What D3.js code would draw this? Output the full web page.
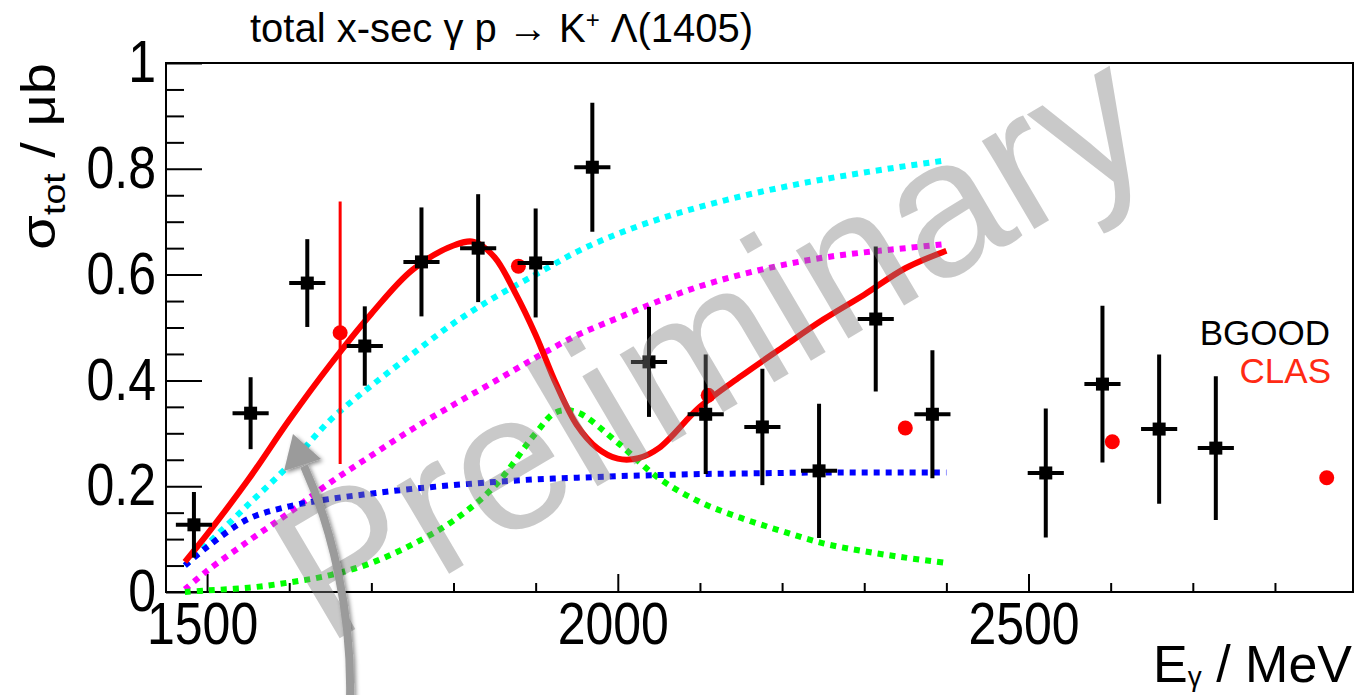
<!DOCTYPE html>
<html>
<head>
<meta charset="utf-8">
<script src="https://cdn.jsdelivr.net/npm/d3@7"></script>
<style>
  html, body { margin: 0; padding: 0; background: #ffffff; }
  svg { display: block; }
  text { font-family: "Liberation Sans", Arial, Helvetica, sans-serif; }
</style>
</head>
<body>
<svg id="chart" width="1360" height="695"></svg>
<script>
// ---- BGOOD measurement: photon energy (MeV), cross section (µb), stat. error ----
const bgoodEnergy = [1484, 1553, 1622, 1692, 1761, 1830, 1900, 1969, 2038, 2107, 2176, 2245, 2314, 2383, 2521, 2590, 2659, 2728];
const bgoodSigma  = [0.127, 0.338, 0.584, 0.465, 0.624, 0.650, 0.622, 0.803, 0.435, 0.336, 0.312, 0.229, 0.516, 0.336, 0.225, 0.393, 0.308, 0.272];
const bgoodError  = [0.062, 0.068, 0.083, 0.075, 0.103, 0.102, 0.103, 0.122, 0.104, 0.113, 0.110, 0.127, 0.137, 0.121, 0.122, 0.148, 0.141, 0.136];
const bgoodBinHalfWidth = 22;

// ---- CLAS measurement ----
const clasEnergy = [1662, 1879, 2110, 2350, 2602, 2863];
const clasSigma  = [0.490, 0.616, 0.372, 0.310, 0.284, 0.216];
const clasError  = [0.248, 0.010, 0.010, 0.010, 0.010, 0.010];

// ---- Model curves ----
const totalEnergy = [1473, 1500, 1550, 1600, 1650, 1700, 1750, 1800, 1825, 1850, 1875, 1900, 1925, 1950, 1975, 2000, 2025, 2050, 2100, 2150, 2200, 2250, 2300, 2350, 2400];
const totalSigma  = [0.057, 0.109, 0.212, 0.325, 0.430, 0.526, 0.609, 0.655, 0.662, 0.633, 0.566, 0.486, 0.393, 0.316, 0.272, 0.252, 0.253, 0.272, 0.350, 0.408, 0.462, 0.515, 0.562, 0.612, 0.645];

const partEnergy  = [1473, 1500, 1550, 1600, 1650, 1700, 1750, 1800, 1850, 1900, 1950, 2000, 2050, 2100, 2150, 2200, 2250, 2300, 2350, 2400];
const cyanSigma    = [0.050, 0.090, 0.165, 0.240, 0.325, 0.390, 0.450, 0.508, 0.557, 0.600, 0.643, 0.677, 0.705, 0.728, 0.748, 0.765, 0.780, 0.793, 0.805, 0.816];
const magentaSigma = [0.005, 0.040, 0.096, 0.150, 0.207, 0.258, 0.308, 0.354, 0.398, 0.443, 0.485, 0.518, 0.550, 0.578, 0.600, 0.618, 0.632, 0.642, 0.650, 0.658];
const blueSigma    = [0.050, 0.085, 0.138, 0.162, 0.176, 0.186, 0.195, 0.202, 0.208, 0.213, 0.216, 0.219, 0.221, 0.223, 0.224, 0.225, 0.226, 0.226, 0.226, 0.226];

const greenEnergy = [1473, 1500, 1550, 1600, 1650, 1700, 1750, 1800, 1850, 1900, 1925, 1950, 2000, 2050, 2100, 2150, 2200, 2250, 2300, 2350, 2400];
const greenSigma  = [0.000, 0.003, 0.008, 0.018, 0.032, 0.055, 0.090, 0.135, 0.200, 0.300, 0.340, 0.340, 0.282, 0.215, 0.170, 0.140, 0.115, 0.092, 0.077, 0.065, 0.055];

// ---- Axis ticks ----
const xMajorTicks = [1500, 2000, 2500];
const xMinorTicks = [1600, 1700, 1800, 1900, 2100, 2200, 2300, 2400, 2600, 2700, 2800];
const yMajorTicks = [0, 0.2, 0.4, 0.6, 0.8, 1];
const yTickLabels = ["0", "0.2", "0.4", "0.6", "0.8", "1"];
const yMinorTicks = [0.05, 0.1, 0.15, 0.25, 0.3, 0.35, 0.45, 0.5, 0.55, 0.65, 0.7, 0.75, 0.85, 0.9, 0.95];

const svg = d3.select("#chart");
const frame = { left: 166, right: 1353, top: 63, bottom: 592 };
const labelStretch = 1.17;   // axis lettering is drawn a little taller than wide

const x = d3.scaleLinear().domain([1450, 2895]).range([frame.left, frame.right]);
const y = d3.scaleLinear().domain([0, 1]).range([frame.bottom, frame.top]);

// title
const title = svg.append("text")
  .attr("x", 250).attr("y", 42)
  .attr("font-size", 40).attr("fill", "#000");
title.append("tspan").text("total x-sec γ p → K");
title.append("tspan").attr("font-size", 24).attr("dy", -14).text("+");
title.append("tspan").attr("dy", 14).text(" Λ(1405)");

// frame
svg.append("rect")
  .attr("x", frame.left).attr("y", frame.top)
  .attr("width", frame.right - frame.left).attr("height", frame.bottom - frame.top)
  .attr("fill", "none").attr("stroke", "#000").attr("stroke-width", 2);

// axes (ticks pointing inward)
function styleAxis(g) {
  g.select(".domain").remove();
  g.selectAll(".tick line").attr("stroke", "#000").attr("stroke-width", 2);
}
svg.append("g").attr("transform", `translate(0,${frame.bottom})`)
  .call(d3.axisBottom(x).tickValues(xMinorTicks).tickSize(-9).tickFormat(""))
  .call(styleAxis);
const xAxisG = svg.append("g").attr("transform", `translate(0,${frame.bottom})`)
  .call(d3.axisBottom(x).tickValues(xMajorTicks).tickSize(-18).tickPadding(9).tickFormat(d3.format("d")))
  .call(styleAxis);
xAxisG.selectAll(".tick text")
  .attr("font-family", "Liberation Sans, Arial, sans-serif")
  .attr("font-size", 50).attr("fill", "#000")
  .attr("dx", -5)
  .attr("transform", `scale(1,${labelStretch})`);

svg.append("g").attr("transform", `translate(${frame.left},0)`)
  .call(d3.axisLeft(y).tickValues(yMinorTicks).tickSize(-18).tickFormat(""))
  .call(styleAxis);
const yAxisG = svg.append("g").attr("transform", `translate(${frame.left},0)`)
  .call(d3.axisLeft(y).tickValues(yMajorTicks).tickSize(-36).tickPadding(10)
    .tickFormat((d, i) => yTickLabels[i]))
  .call(styleAxis);
yAxisG.selectAll(".tick text")
  .attr("font-family", "Liberation Sans, Arial, sans-serif")
  .attr("font-size", 50).attr("fill", "#000")
  .attr("transform", `scale(1,${labelStretch})`);

// axis titles
const yTitle = svg.append("text")
  .attr("transform", `translate(55,63) scale(1,${labelStretch}) rotate(-90)`)
  .attr("text-anchor", "end").attr("font-size", 48).attr("fill", "#000");
yTitle.append("tspan").text("σ");
yTitle.append("tspan").attr("font-size", 32).attr("dy", 10).text("tot");
yTitle.append("tspan").attr("dy", -10).text(" / μb");

const xTitle = svg.append("text")
  .attr("x", 1352).attr("y", 682)
  .attr("text-anchor", "end").attr("font-size", 52).attr("fill", "#000");
xTitle.append("tspan").text("E");
xTitle.append("tspan").attr("font-size", 28).attr("dy", 4).text("γ");
xTitle.append("tspan").attr("dy", -4).text(" / MeV");

// model curves
const line = d3.line()
  .x(d => x(d[0])).y(d => y(d[1]))
  .curve(d3.curveCatmullRom.alpha(0.5));

const dotted = [
  { e: partEnergy, s: cyanSigma, color: "#00ffff" },
  { e: partEnergy, s: magentaSigma, color: "#ff00ff" },
  { e: greenEnergy, s: greenSigma, color: "#00ff00" },
  { e: partEnergy, s: blueSigma, color: "#0000ff" }
];
const curvesG = svg.append("g");
dotted.forEach(c => {
  curvesG.append("path")
    .attr("d", line(d3.zip(c.e, c.s)))
    .attr("fill", "none").attr("stroke", c.color)
    .attr("stroke-width", 6).attr("stroke-dasharray", "6,6");
});
curvesG.append("path")
  .attr("d", line(d3.zip(totalEnergy, totalSigma)))
  .attr("fill", "none").attr("stroke", "#ff0000")
  .attr("stroke-width", 6).attr("stroke-linejoin", "round");

// CLAS points
const clasG = svg.append("g");
clasEnergy.forEach((e, i) => {
  clasG.append("line")
    .attr("x1", x(e)).attr("x2", x(e))
    .attr("y1", y(clasSigma[i] - clasError[i])).attr("y2", y(clasSigma[i] + clasError[i]))
    .attr("stroke", "#ff0000").attr("stroke-width", 3);
  clasG.append("circle")
    .attr("cx", x(e)).attr("cy", y(clasSigma[i])).attr("r", 7.5)
    .attr("fill", "#ff0000");
});

// BGOOD points
const bgoodG = svg.append("g");
bgoodEnergy.forEach((e, i) => {
  const cx = x(e), cy = y(bgoodSigma[i]);
  bgoodG.append("line")
    .attr("x1", cx).attr("x2", cx)
    .attr("y1", y(bgoodSigma[i] - bgoodError[i])).attr("y2", y(bgoodSigma[i] + bgoodError[i]))
    .attr("stroke", "#000").attr("stroke-width", 4);
  bgoodG.append("line")
    .attr("x1", x(e - bgoodBinHalfWidth)).attr("x2", x(e + bgoodBinHalfWidth))
    .attr("y1", cy).attr("y2", cy)
    .attr("stroke", "#000").attr("stroke-width", 4);
  bgoodG.append("rect")
    .attr("x", cx - 6.5).attr("y", cy - 6.5)
    .attr("width", 13).attr("height", 13)
    .attr("fill", "#000");
});

// legend
svg.append("text").attr("x", 1330).attr("y", 345)
  .attr("text-anchor", "end").attr("font-size", 35).attr("fill", "#000").text("BGOOD");
svg.append("text").attr("x", 1331).attr("y", 383)
  .attr("text-anchor", "end").attr("font-size", 35).attr("fill", "#ff2a14").text("CLAS");

// watermark
svg.append("text")
  .attr("transform", "translate(744,400) rotate(-30.5)")
  .attr("text-anchor", "middle").attr("font-size", 194)
  .attr("fill", "#7f7f7f").attr("fill-opacity", 0.42)
  .text("Preliminary");

// pointer arrow
const defs = svg.append("defs");
const shadow = defs.append("filter").attr("id", "arrowShadow")
  .attr("x", "-50%").attr("y", "-50%").attr("width", "200%").attr("height", "200%");
shadow.append("feDropShadow")
  .attr("dx", 2).attr("dy", 2).attr("stdDeviation", 2)
  .attr("flood-color", "#000").attr("flood-opacity", 0.45);

const arrowG = svg.append("g").attr("filter", "url(#arrowShadow)");
arrowG.append("path")
  .attr("d", "M350,700 C352,612 332,528 304,466")
  .attr("fill", "none").attr("stroke", "#9b9b9b").attr("stroke-width", 8);
arrowG.append("path")
  .attr("d", "M293,434 L284,471 L321,459 Z")
  .attr("fill", "#9b9b9b");
</script>
</body>
</html>
